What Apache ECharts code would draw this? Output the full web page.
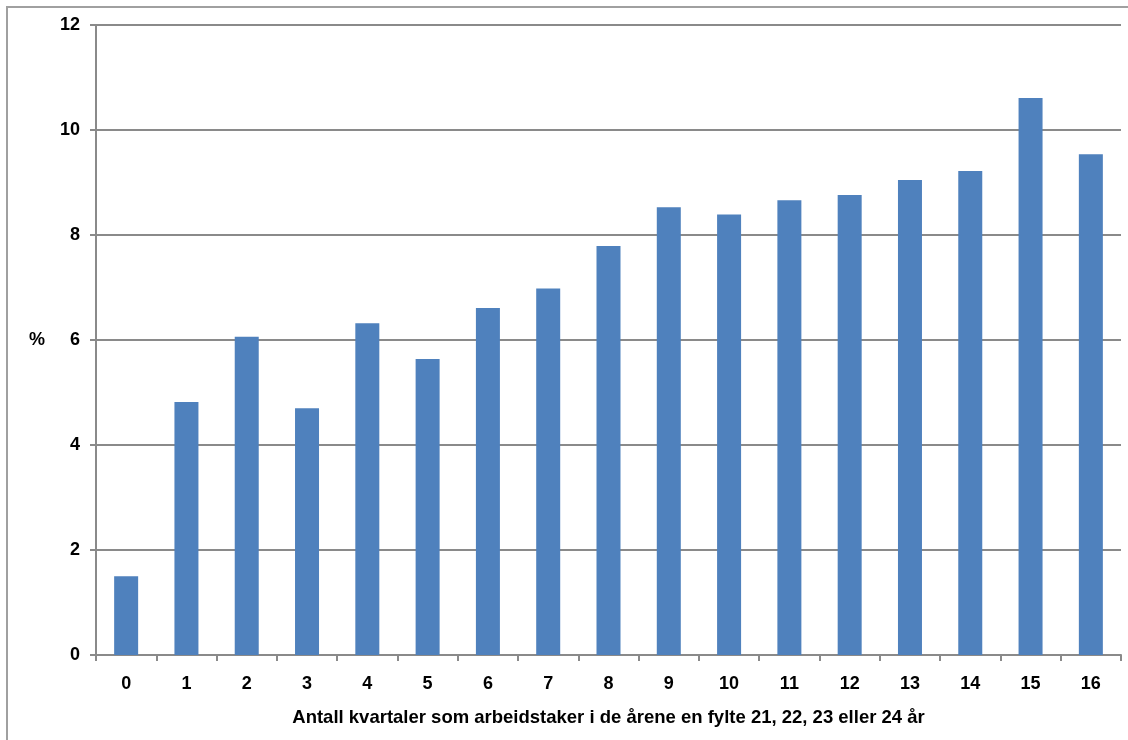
<!DOCTYPE html>
<html>
<head>
<meta charset="utf-8">
<script src="https://cdn.jsdelivr.net/npm/echarts@6/dist/echarts.min.js"></script>
<style>
html,body{margin:0;padding:0;background:#fff;}
#chart{width:1128px;height:740px;}
</style>
</head>
<body>
<div id="chart"></div>
<script>
const categories = ['0','1','2','3','4','5','6','7','8','9','10','11','12','13','14','15','16'];
const values = [1.50, 4.82, 6.06, 4.70, 6.32, 5.64, 6.61, 6.98, 7.79, 8.53, 8.39, 8.66, 8.76, 9.05, 9.22, 10.61, 9.54];
const yTicks = [0, 2, 4, 6, 8, 10, 12];
const xTitle = 'Antall kvartaler som arbeidstaker i de årene en fylte 21, 22, 23 eller 24 år';
const yTitle = '%';

const font = 'Liberation Sans, Arial, sans-serif';
const chart = echarts.init(document.getElementById('chart'));
chart.setOption({
  animation: false,
  backgroundColor: '#fff',
  graphic: [{
    type: 'rect',
    shape: {x: 7, y: 7, width: 1200, height: 800},
    style: {fill: 'none', stroke: '#a0a0a0', lineWidth: 2},
    silent: true, z: -1
  }],
  grid: {left: 96, right: 7, top: 25, bottom: 85, containLabel: false},
  xAxis: {
    type: 'category',
    data: categories,
    name: xTitle,
    nameLocation: 'middle',
    nameGap: 53,
    nameTextStyle: {fontFamily: font, fontWeight: 'bold', fontSize: 18.5, color: '#000'},
    axisLine: {lineStyle: {color: '#8a8a8a', width: 2}},
    axisTick: {show: true, length: 6, lineStyle: {color: '#8a8a8a', width: 2}},
    axisLabel: {fontFamily: font, fontWeight: 'bold', fontSize: 18, color: '#000', margin: 20}
  },
  yAxis: {
    type: 'value',
    min: yTicks[0],
    max: yTicks[yTicks.length - 1],
    interval: 2,
    name: yTitle,
    nameLocation: 'middle',
    nameRotate: 0,
    nameGap: 51,
    nameTextStyle: {fontFamily: font, fontWeight: 'bold', fontSize: 18, color: '#000'},
    axisLine: {show: true, lineStyle: {color: '#8a8a8a', width: 2}},
    axisTick: {show: true, length: 6, lineStyle: {color: '#8a8a8a', width: 2}},
    axisLabel: {fontFamily: font, fontWeight: 'bold', fontSize: 18, color: '#000', margin: 16},
    splitLine: {show: true, lineStyle: {color: '#8a8a8a', width: 2}}
  },
  series: [{
    type: 'bar',
    data: values,
    barWidth: 24,
    itemStyle: {color: '#4F81BD'}
  }]
});
</script>
</body>
</html>
